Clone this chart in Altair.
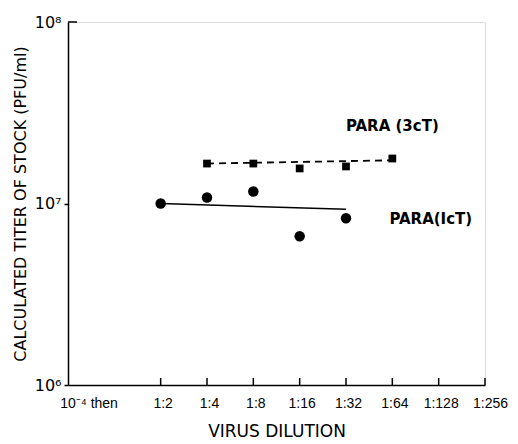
import altair as alt
import pandas as pd

# x positions: 1:2 -> 1, 1:4 -> 2, ... 1:256 -> 8 (log2 of dilution)
tick_pos = [1, 2, 3, 4, 5, 6, 7, 8]
tick_labels = ["10⁻⁴ then", "1:2", "1:4", "1:8", "1:16", "1:32", "1:64", "1:128", "1:256"]
tick_label_pos = [-0.6, 1, 2, 3, 4, 5, 6, 7, 8]

# PARA (3cT) squares
sq_x = [2, 3, 4, 5, 6]
sq_y = [1.66e7, 1.66e7, 1.56e7, 1.60e7, 1.77e7]
sq_fit_x = [2, 6]
sq_fit_y = [1.66e7, 1.73e7]

# PARA (1cT) circles
ci_x = [1, 2, 3, 4, 5]
ci_y = [1.0e7, 1.08e7, 1.165e7, 6.6e6, 8.3e6]
ci_fit_x = [1, 5]
ci_fit_y = [1.0e7, 9.3e6]

label_text = ["PARA (3cT)", "PARA(IcT)"]
label_x = [6.0, 6.83]
label_y = [2.66e7, 8.26e6]

FONT = "DejaVu Sans"
TICKFONT = "Liberation Sans"
W, H = 417, 363

label_expr = " : ".join(
    f"datum.value == {v} ? '{t}'" for v, t in zip(tick_label_pos, tick_labels)
) + " : ''"

xscale = alt.Scale(domain=[-1, 8], nice=False, zero=False)
yscale = alt.Scale(type="log", domain=[1e6, 1e8], nice=False)

xenc = alt.X(
    "x:Q",
    scale=xscale,
    axis=alt.Axis(
        values=tick_label_pos,
        labelExpr=label_expr,
        labelOverlap=False,
        labelBound=False,
        labelFlush=False,
        labelOffset={"condition": {"test": "datum.value == 8", "value": 5}, "value": 2},
        ticks=False,
        grid=False,
        domainColor="black",
        domainWidth=1.5,
        labelFont=TICKFONT,
        labelFontSize=14,
        labelColor="black",
        labelPadding=11,
        title="VIRUS DILUTION",
        titleFont=FONT,
        titleFontSize=17,
        titleFontWeight="normal",
        titleColor="black",
        titlePadding=13,
    ),
)

yenc = alt.Y(
    "y:Q",
    scale=yscale,
    axis=alt.Axis(
        values=[1e6, 1e7, 1e8],
        labelExpr="datum.value >= 1e8 ? '10⁸' : datum.value >= 1e7 ? '10⁷' : '10⁶'",
        labelOverlap=False,
        labelFlush=False,
        grid=False,
        tickSize=4,
        tickColor={"condition": {"test": "datum.value >= 1e8", "value": "transparent"}, "value": "black"},
        tickWidth=1.5,
        domainColor="black",
        domainWidth=1.5,
        labelFont=FONT,
        labelFontSize=16,
        labelColor="black",
        labelPadding=3,
        title="CALCULATED TITER OF STOCK (PFU/ml)",
        titleFont=FONT,
        titleFontSize=16,
        titleFontWeight="normal",
        titleColor="black",
        titlePadding=6,
    ),
)

sq_df = pd.DataFrame({"x": sq_x, "y": sq_y})
sq_fit_df = pd.DataFrame({"x": sq_fit_x, "y": sq_fit_y})
ci_df = pd.DataFrame({"x": ci_x, "y": ci_y})
ci_fit_df = pd.DataFrame({"x": ci_fit_x, "y": ci_fit_y})
lab_df = pd.DataFrame({"x": label_x, "y": label_y, "t": label_text})
tick_df = pd.DataFrame({"x": tick_pos})
top_df = pd.DataFrame({"y": [1e8]})

base_x = alt.X("x:Q", scale=xscale)
base_y = alt.Y("y:Q", scale=yscale)

axes = alt.Chart(ci_df).mark_point(opacity=0).encode(x=xenc, y=yenc)

ticks = alt.Chart(tick_df).mark_rule(color="black", strokeWidth=1.5).encode(
    x=base_x, y=alt.value(H), y2=alt.value(H - 7)
)

top_tick = alt.Chart(top_df).mark_rule(color="black", strokeWidth=1.5).encode(
    y=base_y, x=alt.value(0), x2=alt.value(9)
)

sq_line = alt.Chart(sq_fit_df).mark_line(
    color="black", strokeWidth=1.8, strokeDash=[7, 5]
).encode(x=base_x, y=base_y)

ci_line = alt.Chart(ci_fit_df).mark_line(color="black", strokeWidth=1.5).encode(
    x=base_x, y=base_y
)

squares = alt.Chart(sq_df).mark_point(
    shape="square", filled=True, color="black", size=60, opacity=1
).encode(x=base_x, y=base_y)

circles = alt.Chart(ci_df).mark_point(
    shape="circle", filled=True, color="black", size=110, opacity=1
).encode(x=base_x, y=base_y)

labels = alt.Chart(lab_df).mark_text(
    font=FONT, fontSize=15, fontWeight="bold", color="black", align="center", baseline="middle"
).encode(x=base_x, y=base_y, text="t:N")

chart = (
    alt.layer(axes, ticks, top_tick, sq_line, ci_line, squares, circles, labels)
    .properties(
        width=W,
        height=H,
        autosize=alt.AutoSizeParams(type="none"),
        padding={"left": 60, "top": 14, "right": 25, "bottom": 65},
    )
    .configure_view(stroke=None)
    .configure(background="white")
)

chart.save("out.html", embed_options={"renderer": "svg", "actions": False})
